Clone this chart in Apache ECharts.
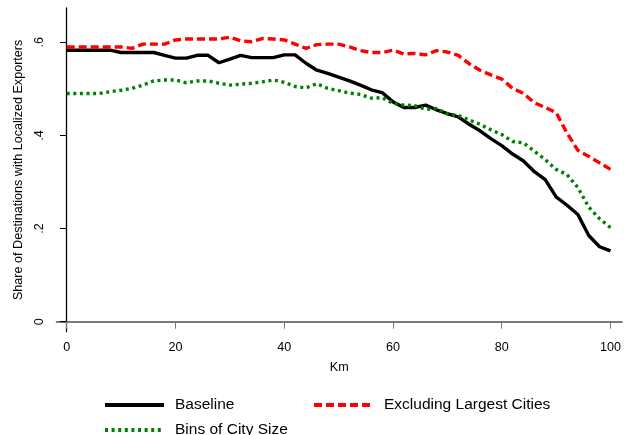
<!DOCTYPE html>
<html>
<head>
<meta charset="utf-8">
<script src="https://cdn.jsdelivr.net/npm/echarts@6/dist/echarts.min.js"></script>
<style>
html,body{margin:0;padding:0;background:#fff;}
#chart{width:624px;height:435px;}
</style>
</head>
<body>
<div id="chart"></div>
<script>
var km = [0,2,4,6,8,10,12,14,16,18,20,22,24,26,28,30,32,34,36,38,40,42,44,46,48,50,52,54,56,58,60,62,64,66,68,70,72,74,76,78,80,82,84,86,88,90,92,94,96,98,100];
var baseline = [.583,.583,.583,.583,.583,.578,.578,.578,.578,.572,.566,.566,.572,.572,.556,.564,.572,.567,.567,.567,.573,.573,.555,.540,.533,.525,.517,.508,.498,.492,.472,.460,.460,.465,.455,.447,.440,.424,.410,.393,.378,.360,.345,.322,.305,.268,.250,.230,.185,.161,.152];
var excluding = [.590,.590,.590,.590,.590,.590,.587,.596,.596,.596,.605,.607,.607,.607,.607,.611,.603,.601,.608,.607,.605,.596,.587,.595,.596,.596,.590,.582,.578,.578,.583,.575,.576,.573,.582,.579,.572,.554,.540,.530,.521,.501,.490,.470,.460,.449,.405,.368,.355,.341,.327];
var bins = [.490,.490,.490,.490,.494,.497,.501,.508,.517,.519,.519,.513,.517,.517,.512,.508,.510,.512,.515,.519,.514,.505,.502,.511,.501,.496,.491,.488,.480,.481,.469,.465,.464,.456,.458,.446,.443,.433,.424,.412,.402,.387,.384,.366,.348,.327,.316,.288,.246,.221,.202];
var xTicks = [0,20,40,60,80,100];
var yTicks = [0,0.2,0.4,0.6];
var seriesNames = ['Baseline','Excluding Largest Cities','Bins of City Size'];

function pairs(xs, ys){ return xs.map(function(x,i){ return [x, ys[i]]; }); }
var FONT = '"Liberation Sans", Arial, Helvetica, sans-serif';

var legendCommon = {
  orient: 'vertical', top: 397, padding: 0, height: 80,
  itemWidth: 59, itemHeight: 14, itemGap: 9,
  itemStyle: {opacity: 0, borderWidth: 0},
  lineStyle: {width: 4},
  textStyle: {fontFamily: FONT, fontSize: 15.5, color: '#000', padding: [0,0,0,6]}
};

var chart = echarts.init(document.getElementById('chart'), null, {renderer:'canvas'});
chart.setOption({
  animation: false,
  backgroundColor: '#ffffff',
  textStyle: {fontFamily: FONT},
  grid: {left: 56.7, right: 1.3, top: 8, bottom: 103.3, containLabel: false},
  xAxis: {
    type: 'value', min: -1.84, max: 102.1,
    name: 'Km', nameLocation: 'middle', nameGap: 29,
    nameTextStyle: {fontFamily: FONT, fontSize: 12.6, color: '#000'},
    splitLine: {show: false},
    axisLine: {show: true, lineStyle: {color: '#7a7a7a', width: 2}},
    axisTick: {show: true, length: 7, lineStyle: {color: '#7a7a7a', width: 1}, customValues: xTicks},
    axisLabel: {fontFamily: FONT, fontSize: 12.6, color: '#000', margin: 9, customValues: xTicks}
  },
  yAxis: {
    type: 'value', min: -0.0215, max: 0.6736,
    name: 'Share of Destinations with Localized Exporters', nameLocation: 'middle', nameGap: 31, nameRotate: 90,
    nameTextStyle: {fontFamily: FONT, fontSize: 12.6, color: '#000'},
    splitLine: {show: false},
    axisLine: {show: true, lineStyle: {color: '#000', width: 1.3}},
    axisTick: {show: true, length: 6.7, lineStyle: {color: '#000', width: 1}, customValues: yTicks},
    axisLabel: {fontFamily: FONT, fontSize: 12.6, color: '#000', margin: 11, rotate: 90,
      customValues: yTicks,
      formatter: function(v){ return Math.abs(v) < 1e-9 ? '0' : '.' + Math.round(v*10); }}
  },
  legend: [
    Object.assign({data: [seriesNames[0], seriesNames[2]], left: 103}, legendCommon),
    Object.assign({data: [seriesNames[1]], left: 312}, legendCommon)
  ],
  series: [
    {name: seriesNames[0], type: 'line', data: pairs(km, baseline), symbol: 'none',
     lineStyle: {color: '#000000', width: 3.4, type: 'solid'}, itemStyle: {color: '#000000'}},
    {name: seriesNames[1], type: 'line', data: pairs(km, excluding), symbol: 'none',
     lineStyle: {color: '#ff0000', width: 3.4, type: [8,4]}, itemStyle: {color: '#ff0000'}},
    {name: seriesNames[2], type: 'line', data: pairs(km, bins), symbol: 'none',
     lineStyle: {color: '#008000', width: 3.4, type: [3,3.6]}, itemStyle: {color: '#008000'}}
  ]
});
</script>
</body>
</html>
